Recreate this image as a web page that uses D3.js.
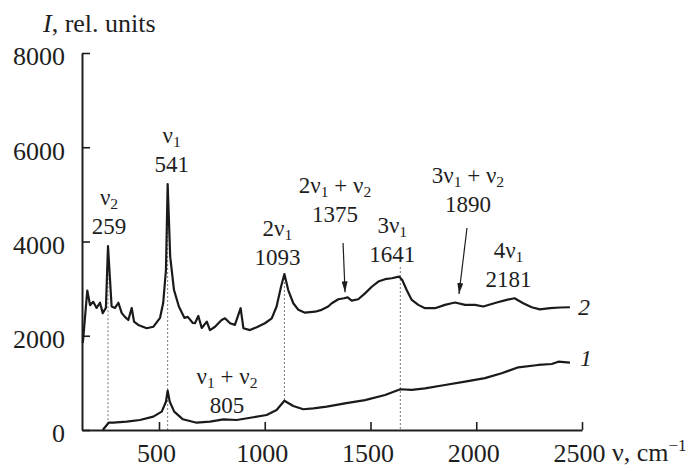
<!DOCTYPE html>
<html>
<head>
<meta charset="utf-8">
<script src="https://cdn.jsdelivr.net/npm/d3@7"></script>
<style>
body { margin: 0; background: #fff; }
text { font-family: "Liberation Serif", "Times New Roman", serif; fill: #1e1e1e; }
</style>
</head>
<body>
<svg id="chart" width="691" height="472"></svg>
<script>
// axis ticks
var xTicks = [500, 1000, 1500, 2000, 2500];
var yTicks = [0, 2000, 4000, 6000, 8000];

// spectrum 2 (upper curve), wavenumber in cm-1 and intensity
var spec2Wn = [140, 161, 174, 189, 205, 221, 234, 249, 259, 276, 292, 308, 324, 339, 355, 371, 382, 402, 442, 473,
	505, 520, 533, 541, 553, 571, 594, 620, 636, 660, 670, 686, 702, 726, 741, 765, 796, 812, 836, 859,
	886, 899, 930, 962, 1001, 1033, 1056, 1077, 1093, 1111, 1135, 1159, 1190, 1238, 1269, 1300, 1317, 1348, 1375, 1392,
	1411, 1442, 1474, 1506, 1537, 1569, 1600, 1635, 1650, 1671, 1695, 1726, 1758, 1805, 1852, 1884, 1900, 1947, 1994, 2033,
	2097, 2144, 2181, 2222, 2262, 2301, 2349, 2396, 2443];
var spec2I = [1850, 2960, 2650, 2720, 2590, 2700, 2480, 2590, 3900, 2620, 2590, 2700, 2480, 2400, 2335, 2590, 2300, 2230, 2160, 2190,
	2380, 2700, 3400, 5220, 3680, 2970, 2620, 2380, 2400, 2270, 2265, 2420, 2165, 2300, 2120, 2190, 2335, 2370, 2265, 2230,
	2585, 2160, 2120, 2180, 2265, 2370, 2620, 3040, 3310, 2970, 2690, 2550, 2490, 2510, 2550, 2620, 2690, 2775, 2795, 2815,
	2745, 2775, 2900, 3040, 3150, 3200, 3220, 3255, 3185, 2970, 2760, 2655, 2585, 2585, 2655, 2690, 2705, 2655, 2655, 2620,
	2705, 2760, 2795, 2690, 2605, 2560, 2585, 2600, 2605];

// spectrum 1 (lower curve)
var spec1Wn = [234, 262, 284, 347, 410, 473, 513, 533, 541, 551, 572, 613, 678, 741, 805, 867, 946, 1009, 1056, 1093,
	1135, 1182, 1230, 1293, 1379, 1474, 1569, 1641, 1695, 1758, 1852, 1947, 2041, 2120, 2199, 2293, 2357, 2388, 2443];
var spec1I = [0, 155, 155, 176, 212, 283, 390, 600, 835, 600, 390, 227, 155, 176, 227, 212, 270, 318, 425, 622,
	510, 440, 460, 495, 565, 635, 743, 865, 850, 885, 955, 1025, 1100, 1205, 1330, 1380, 1400, 1450, 1430];

// band assignments
var peakNames = ["ν_2", "ν_1", "ν_1 + ν_2", "2ν_1", "2ν_1 + ν_2", "3ν_1", "3ν_1 + ν_2", "4ν_1"];
var peakWn = [259, 541, 805, 1093, 1375, 1641, 1890, 2181];

// label placement (pixel offset from the band position, baseline of the number line)
var labelDx = [1, 4, 3.5, -7, -9, -8, 15, -6];
var labelY = [234, 172, 413, 265, 222, 262, 212, 287];
var lineGap = 29;

var svg = d3.select('#chart');

var x = d3.scaleLinear().domain([136, 2500]).range([82, 582]);
var y = d3.scaleLinear().domain([0, 8000]).range([430, 53]);

function valueAt(wns, vals, w) {
	var i = d3.bisectLeft(wns, w);
	if (i <= 0) return vals[0];
	if (i >= wns.length) return vals[vals.length - 1];
	var t = (w - wns[i - 1]) / (wns[i] - wns[i - 1]);
	return vals[i - 1] + t * (vals[i] - vals[i - 1]);
}

// write "2ν_1 + ν_2" with subscripts
function richText(sel, str, size) {
	var parts = str.split(/(_\d)/).filter(function(p) { return p.length; });
	var shifted = false;
	parts.forEach(function(p) {
		var t = sel.append('tspan');
		if (p[0] === '_') {
			t.text(p.slice(1)).style('font-size', (size * 0.68) + 'px').attr('dy', 4);
			shifted = true;
		} else {
			t.text(p).style('font-size', size + 'px');
			if (shifted) { t.attr('dy', -4); shifted = false; }
		}
	});
}

// dotted guide lines
var guides = [
	{wn: 259, y1: y(valueAt(spec2Wn, spec2I, 259)), y2: y(valueAt(spec1Wn, spec1I, 259))},
	{wn: 541, y1: y(valueAt(spec2Wn, spec2I, 541)), y2: y(0)},
	{wn: 1093, y1: y(valueAt(spec2Wn, spec2I, 1093)), y2: y(valueAt(spec1Wn, spec1I, 1093))},
	{wn: 1641, y1: labelY[5] + 5, y2: y(0)}
];
svg.append('g').selectAll('line').data(guides).enter().append('line')
	.attr('x1', function(d) { return x(d.wn); }).attr('x2', function(d) { return x(d.wn); })
	.attr('y1', function(d) { return d.y1; }).attr('y2', function(d) { return d.y2; })
	.style('stroke', '#777').style('stroke-width', 1).style('stroke-dasharray', '2,2');

// axes
var yAxis = d3.axisLeft(y).tickValues(yTicks).tickSizeInner(-8).tickSizeOuter(0).tickPadding(17)
	.tickFormat(d3.format('d'));
var xAxis = d3.axisBottom(x).tickValues(xTicks).tickSizeInner(-8).tickSizeOuter(0).tickPadding(14)
	.tickFormat(d3.format('d'));

var gy = svg.append('g').attr('transform', 'translate(82,0)').call(yAxis);
var gx = svg.append('g').attr('transform', 'translate(0,430)').call(xAxis);
[gy, gx].forEach(function(g) {
	g.select('.domain').style('stroke', '#1e1e1e').style('stroke-width', 2);
	g.selectAll('.tick line').style('stroke', '#1e1e1e').style('stroke-width', 1.6);
	g.selectAll('.tick text').style('font-family', '"Liberation Serif", serif')
		.style('font-size', '26px').style('fill', '#1e1e1e');
});
gy.selectAll('.tick text').attr('dy', '0.46em');
gx.selectAll('.tick text').attr('dx', -3);

// spectra
var line = d3.line().x(function(d) { return x(d[0]); }).y(function(d) { return y(d[1]); });
[[spec2Wn, spec2I], [spec1Wn, spec1I]].forEach(function(s) {
	svg.append('path')
		.datum(d3.zip(s[0], s[1]))
		.attr('d', line)
		.style('fill', 'none')
		.style('stroke', '#1a1a1a')
		.style('stroke-width', 2.2)
		.style('stroke-linejoin', 'round');
});

// band labels
peakWn.forEach(function(wn, i) {
	var cx = x(wn) + labelDx[i];
	var t1 = svg.append('text').attr('x', cx).attr('y', labelY[i] - lineGap).attr('text-anchor', 'middle');
	richText(t1, peakNames[i], 23);
	svg.append('text').attr('x', cx).attr('y', labelY[i]).attr('text-anchor', 'middle')
		.style('font-size', '23px').text(wn);
});

// arrows to the weak combination bands
svg.append('defs').append('marker')
	.attr('id', 'head').attr('markerUnits', 'userSpaceOnUse')
	.attr('markerWidth', 12).attr('markerHeight', 6)
	.attr('refX', 11).attr('refY', 3).attr('orient', 'auto')
	.append('path').attr('d', 'M0,0 L11,3 L0,6 Z').style('fill', '#1e1e1e');

var arrows = [
	{wn: 1375, tailDx: -1, tailY: 243, tipDx: 1, tipDy: -6},
	{wn: 1890, tailDx: 14, tailY: 228, tipDx: 6, tipDy: -9}
];
svg.append('g').selectAll('line').data(arrows).enter().append('line')
	.attr('x1', function(d) { return x(d.wn) + d.tailDx; })
	.attr('y1', function(d) { return d.tailY; })
	.attr('x2', function(d) { return x(d.wn) + d.tipDx; })
	.attr('y2', function(d) { return y(valueAt(spec2Wn, spec2I, d.wn)) + d.tipDy; })
	.style('stroke', '#1e1e1e').style('stroke-width', 1.2)
	.attr('marker-end', 'url(#head)');

// curve numbers
svg.append('text').attr('x', x(spec2Wn[spec2Wn.length - 1]) + 8).attr('y', y(spec2I[spec2I.length - 1]) + 8)
	.style('font-size', '24px').style('font-style', 'italic').text('2');
svg.append('text').attr('x', x(spec1Wn[spec1Wn.length - 1]) + 10).attr('y', y(spec1I[spec1I.length - 1]) + 3)
	.style('font-size', '24px').style('font-style', 'italic').text('1');

// axis titles
var yt = svg.append('text').attr('x', 43).attr('y', 32).style('font-size', '26px');
yt.append('tspan').style('font-style', 'italic').text('I');
yt.append('tspan').text(', rel. units');

var xt = svg.append('text').attr('x', 612).attr('y', 461).style('font-size', '26px');
xt.append('tspan').text('ν, cm');
xt.append('tspan').attr('dy', -10).style('font-size', '17px').text('−1');
</script>
</body>
</html>
